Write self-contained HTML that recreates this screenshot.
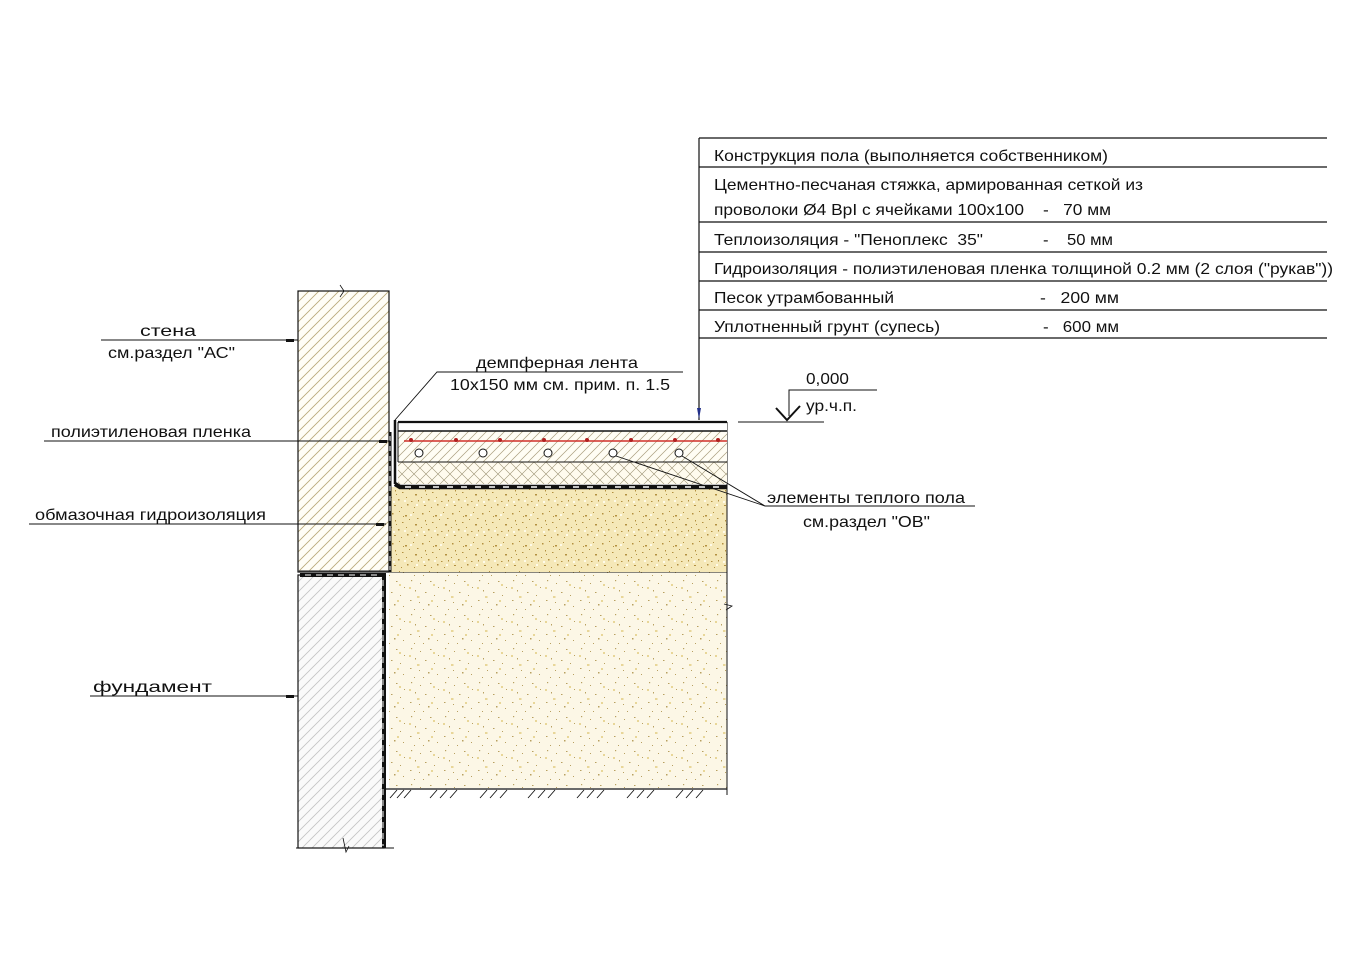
<!DOCTYPE html>
<html><head><meta charset="utf-8"><style>
html,body{margin:0;padding:0;background:#fff}
svg{display:block}
text{font-family:"Liberation Sans",Arial,sans-serif;fill:#111}
</style></head><body>
<svg width="1362" height="962" viewBox="0 0 1362 962" xmlns="http://www.w3.org/2000/svg">
<defs>
<pattern id="hatch" width="10" height="10" patternUnits="userSpaceOnUse">
<rect width="10" height="10" fill="#fffdf6"/>
<path d="M-2,12 L12,-2 M-2,2 L2,-2 M8,12 L12,8" stroke="#b8a878" stroke-width="0.8"/>
</pattern>
<pattern id="hatchF" width="10" height="10" patternUnits="userSpaceOnUse">
<rect width="10" height="10" fill="#fafafa"/>
<path d="M-2,12 L12,-2 M-2,2 L2,-2 M8,12 L12,8" stroke="#c4c4c4" stroke-width="0.8"/>
</pattern>
<pattern id="screed" width="9" height="9" patternUnits="userSpaceOnUse">
<rect width="9" height="9" fill="#fffdf4"/>
<path d="M-2,11 L11,-2 M-2,2 L2,-2 M7,11 L11,7" stroke="#a89c7c" stroke-width="0.7"/>
</pattern>
<pattern id="cross" width="12" height="12" patternUnits="userSpaceOnUse">
<rect width="12" height="12" fill="#fffbee"/>
<path d="M0,12 L12,0 M0,0 L12,12" stroke="#9a9070" stroke-width="0.6"/>
</pattern>
<pattern id="sand" width="30" height="30" patternUnits="userSpaceOnUse">
<rect width="30" height="30" fill="#f5e8b8"/>
<g fill="#b39040">
<rect x="2" y="3" width="1.5" height="1.5"/><rect x="9" y="1" width="1" height="1"/><rect x="15" y="5" width="2" height="1.5"/><rect x="23" y="2" width="1" height="1"/><rect x="27" y="8" width="1.5" height="1"/>
<rect x="5" y="10" width="1" height="1.5"/><rect x="12" y="12" width="1.5" height="1"/><rect x="19" y="9" width="1" height="1"/><rect x="25" y="14" width="2" height="1.5"/><rect x="1" y="17" width="1" height="1"/>
<rect x="8" y="19" width="1.5" height="1.5"/><rect x="16" y="17" width="1" height="1"/><rect x="21" y="21" width="1.5" height="1"/><rect x="28" y="20" width="1" height="1.5"/><rect x="4" y="25" width="2" height="1"/>
<rect x="11" y="27" width="1" height="1"/><rect x="17" y="24" width="1.5" height="1.5"/><rect x="24" y="27" width="1" height="1"/><rect x="13" y="6" width="1" height="1"/><rect x="6" y="14" width="1" height="1"/>
</g>
<g fill="#fffbe8"><rect x="20" y="4" width="2" height="2"/><rect x="3" y="21" width="2" height="2"/><rect x="14" y="20" width="2" height="2"/><rect x="26" y="24" width="2" height="2"/></g>
</pattern>
<pattern id="soil" width="34" height="34" patternUnits="userSpaceOnUse">
<rect width="34" height="34" fill="#fcf7e6"/>
<g fill="#b8a060">
<rect x="3" y="2" width="1.2" height="1.2"/><rect x="12" y="5" width="1" height="1"/><rect x="22" y="3" width="1.5" height="1"/><rect x="30" y="9" width="1" height="1"/>
<rect x="7" y="12" width="1" height="1.5"/><rect x="17" y="14" width="1.5" height="1"/><rect x="26" y="17" width="1" height="1"/><rect x="2" y="22" width="1.5" height="1"/>
<rect x="11" y="24" width="1" height="1"/><rect x="20" y="26" width="1.5" height="1.5"/><rect x="29" y="28" width="1" height="1"/><rect x="6" y="31" width="1" height="1"/><rect x="15" y="31" width="1" height="1"/>
</g>
<g fill="#e8d698"><rect x="25" y="6" width="2" height="2"/><rect x="9" y="18" width="2.5" height="2"/><rect x="23" y="22" width="2" height="2"/><rect x="1" y="9" width="2" height="2"/></g>
</pattern>
</defs>

<!-- Table -->
<g stroke="#111" stroke-width="1.2">
<line x1="699" y1="138" x2="1327" y2="138"/>
<line x1="699" y1="167" x2="1327" y2="167"/>
<line x1="699" y1="222" x2="1327" y2="222"/>
<line x1="699" y1="252" x2="1327" y2="252"/>
<line x1="699" y1="281" x2="1327" y2="281"/>
<line x1="699" y1="310" x2="1327" y2="310"/>
<line x1="699" y1="338" x2="1327" y2="338"/>
<line x1="699" y1="138" x2="699" y2="420"/>
</g>
<path d="M697,408 L701,408 L699,419 Z" fill="#22308a"/>
<g font-size="16" lengthAdjust="spacingAndGlyphs">
<text x="714" y="161" textLength="394" lengthAdjust="spacingAndGlyphs">Конструкция пола (выполняется собственником)</text>
<text x="714" y="190" textLength="429" lengthAdjust="spacingAndGlyphs">Цементно-песчаная стяжка, армированная сеткой из</text>
<text x="714" y="215" textLength="310" lengthAdjust="spacingAndGlyphs">проволоки Ø4 ВрI с ячейками 100х100</text>
<text x="1043" y="215" textLength="68" lengthAdjust="spacingAndGlyphs">-&#160;&#160; 70 мм</text>
<text x="714" y="245" textLength="269" lengthAdjust="spacingAndGlyphs">Теплоизоляция - "Пеноплекс&#160; 35"</text>
<text x="1043" y="245" textLength="70" lengthAdjust="spacingAndGlyphs">-&#160;&#160;&#160; 50 мм</text>
<text x="714" y="274" textLength="619" lengthAdjust="spacingAndGlyphs">Гидроизоляция - полиэтиленовая пленка толщиной 0.2 мм (2 слоя ("рукав"))</text>
<text x="714" y="303" textLength="180" lengthAdjust="spacingAndGlyphs">Песок утрамбованный</text>
<text x="1040" y="303" textLength="79" lengthAdjust="spacingAndGlyphs">-&#160;&#160; 200 мм</text>
<text x="714" y="332" textLength="226" lengthAdjust="spacingAndGlyphs">Уплотненный грунт (супесь)</text>
<text x="1043" y="332" textLength="76" lengthAdjust="spacingAndGlyphs">-&#160;&#160; 600 мм</text>
</g>

<!-- Wall -->
<rect x="298" y="291" width="91" height="281" fill="url(#hatch)" stroke="#111" stroke-width="1.2"/>
<path d="M340,285 L344,291 L340,297" stroke="#111" fill="none" stroke-width="0.8"/>
<!-- Foundation -->
<rect x="298" y="575" width="86" height="273" fill="url(#hatchF)" stroke="#111" stroke-width="1.2"/>
<line x1="296" y1="848" x2="394" y2="848" stroke="#111" stroke-width="1"/>
<path d="M343,838 L346,852 L349,846" stroke="#111" fill="none" stroke-width="0.8"/>
<path d="M300,575 L384,575 L384,848" stroke="#111" stroke-width="4" fill="none"/>
<path d="M305,575 L382,575 M383,580 L383,846" stroke="#fff" stroke-width="1" stroke-dasharray="6,5" fill="none"/>
<path d="M298,571 L389,571" stroke="#444" stroke-width="1.2"/>

<!-- Soil -->
<rect x="389" y="572" width="338" height="216" fill="url(#soil)"/>
<line x1="389" y1="572" x2="727" y2="572" stroke="#111" stroke-width="1"/>
<line x1="727" y1="572" x2="727" y2="795" stroke="#111" stroke-width="1"/>
<line x1="384" y1="789" x2="727" y2="789" stroke="#111" stroke-width="1.2"/>
<g stroke="#111" stroke-width="0.9">
<path d="M390,798 L397,790 M397,798 L404,790 M404,798 L411,790"/>
<path d="M430,798 L437,790 M440,798 L447,790 M450,798 L457,790"/>
<path d="M480,798 L487,790 M490,798 L497,790 M500,798 L507,790"/>
<path d="M528,798 L535,790 M538,798 L545,790 M548,798 L555,790"/>
<path d="M577,798 L584,790 M587,798 L594,790 M597,798 L604,790"/>
<path d="M627,798 L634,790 M637,798 L644,790 M647,798 L654,790"/>
<path d="M676,798 L683,790 M686,798 L693,790 M696,798 L703,790"/>
</g>
<path d="M724,604 L732,606 L726,610" stroke="#111" fill="none" stroke-width="0.8"/>

<!-- Sand -->
<rect x="389" y="487" width="338" height="85" fill="url(#sand)"/>
<line x1="727" y1="422" x2="727" y2="572" stroke="#111" stroke-width="1"/>

<rect x="398" y="462" width="329" height="22" fill="url(#cross)"/>
<rect x="398" y="431" width="329" height="31" fill="url(#screed)"/>
<rect x="398" y="422" width="329" height="9" fill="#fff"/>
<g stroke="#111">
<line x1="398" y1="422" x2="727" y2="422" stroke-width="2.2"/>
<line x1="398" y1="431" x2="727" y2="431" stroke-width="1.6"/>
<line x1="398" y1="462" x2="727" y2="462" stroke-width="1"/>
<line x1="398" y1="422" x2="398" y2="462" stroke-width="1"/>
</g>
<line x1="404" y1="441" x2="727" y2="441" stroke="#d0302a" stroke-width="1.6"/>
<g fill="#b02020">
<circle cx="411" cy="440" r="2"/><circle cx="456" cy="440" r="2"/><circle cx="500" cy="440" r="2"/><circle cx="544" cy="440" r="2"/><circle cx="587" cy="440" r="2"/><circle cx="631" cy="440" r="2"/><circle cx="675" cy="440" r="2"/><circle cx="718" cy="440" r="2"/>
</g>
<g fill="#fff" stroke="#111" stroke-width="1">
<circle cx="419" cy="453" r="4"/><circle cx="483" cy="453" r="4"/><circle cx="548" cy="453" r="4"/><circle cx="613" cy="453" r="4"/><circle cx="679" cy="453" r="4"/>
</g>
<path d="M395,484 L400,487 L727,487" stroke="#111" stroke-width="4.5" fill="none"/>
<line x1="405" y1="487" x2="727" y2="487" stroke="#fff" stroke-width="1.5" stroke-dasharray="6,8"/>
<line x1="395" y1="420" x2="395" y2="484" stroke="#111" stroke-width="2.5"/>
<line x1="390" y1="432" x2="390" y2="572" stroke="#111" stroke-width="3"/>
<line x1="390" y1="436" x2="390" y2="570" stroke="#fff" stroke-width="1" stroke-dasharray="5,5"/>

<!-- leaders left -->
<g stroke="#111" stroke-width="1.1">
<line x1="101" y1="340" x2="298" y2="340"/>
<line x1="44" y1="441" x2="390" y2="441"/>
<line x1="29" y1="524" x2="386" y2="524"/>
<line x1="90" y1="696" x2="298" y2="696"/>
</g>
<g fill="#111"><rect x="286" y="339" width="8" height="3"/><rect x="379" y="440" width="8" height="3"/><rect x="376" y="523" width="8" height="3"/><rect x="286" y="695" width="8" height="3"/></g>
<g font-size="16">
<text x="140" y="336" textLength="56" lengthAdjust="spacingAndGlyphs">стена</text>
<text x="108" y="358" textLength="127" lengthAdjust="spacingAndGlyphs">см.раздел "АС"</text>
<text x="51" y="437" textLength="200" lengthAdjust="spacingAndGlyphs">полиэтиленовая пленка</text>
<text x="35" y="520" textLength="231" lengthAdjust="spacingAndGlyphs">обмазочная гидроизоляция</text>
<text x="93" y="692" textLength="119" lengthAdjust="spacingAndGlyphs">фундамент</text>
</g>

<path d="M395,420 L437,372 L683,372" stroke="#111" stroke-width="0.9" fill="none"/>
<g font-size="16">
<text x="476" y="368" textLength="162" lengthAdjust="spacingAndGlyphs">демпферная лента</text>
<text x="450" y="390" textLength="220" lengthAdjust="spacingAndGlyphs">10x150 мм см. прим. п. 1.5</text>
</g>
<path d="M616,456 L765,506 L975,506 M682,456 L765,506" stroke="#111" stroke-width="0.9" fill="none"/>
<g font-size="16">
<text x="767" y="503" textLength="198" lengthAdjust="spacingAndGlyphs">элементы теплого пола</text>
<text x="803" y="527" textLength="127" lengthAdjust="spacingAndGlyphs">см.раздел "ОВ"</text>
</g>
<line x1="738" y1="422" x2="824" y2="422" stroke="#111" stroke-width="1"/>
<path d="M776,408 L787,420 L800,406" stroke="#111" stroke-width="2" fill="none"/>
<path d="M789,416 L789,390 L877,390" stroke="#111" stroke-width="1" fill="none"/>
<text x="806" y="384" font-size="16" textLength="43" lengthAdjust="spacingAndGlyphs">0,000</text>
<text x="806" y="411" font-size="16" textLength="51" lengthAdjust="spacingAndGlyphs">ур.ч.п.</text>
</svg>
</body></html>
